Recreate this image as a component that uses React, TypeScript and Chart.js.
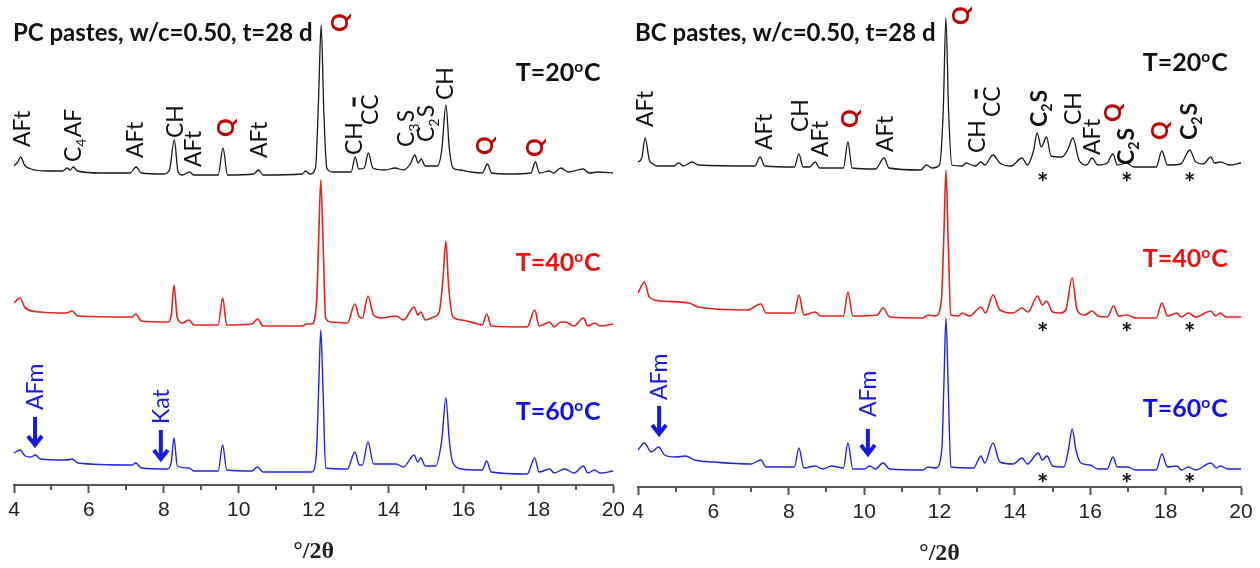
import React, { useEffect, useRef } from "react";
import { Chart, registerables } from "chart.js";
Chart.register(...registerables);

// ---------- axis ----------
const X_MIN = 4;
const X_MAX = 20;
const X_STEP = 2;
const X_MINOR = [5, 7, 9, 11, 13, 15, 17, 19];
const Y_MAX = 480; // stacked intensity (a.u.)

// ---------- data: [2theta, stacked intensity] ----------
const PC_20C: [number, number][] = [
  [4.0, 319], [4.1, 323], [4.18, 328], [4.28, 320], [4.45, 316], [4.9, 314], [5.3, 314], [5.42, 317], [5.5, 315],
  [5.58, 318], [5.7, 314], [6.3, 312], [7.1, 312], [7.26, 318], [7.4, 312], [8.0, 311], [8.15, 315], [8.28, 345],
  [8.38, 313], [8.5, 310], [8.68, 313], [8.8, 310], [9.45, 310], [9.58, 337], [9.7, 310], [10.4, 311], [10.53, 315],
  [10.65, 310], [11.7, 311], [11.78, 314], [11.9, 311], [12.05, 317], [12.13, 385], [12.2, 460], [12.27, 375],
  [12.35, 317], [12.5, 313], [13.0, 313], [13.11, 328], [13.2, 316], [13.35, 317], [13.46, 332], [13.58, 317],
  [13.9, 315], [14.17, 317], [14.4, 315], [14.58, 321], [14.7, 330], [14.79, 322], [14.87, 326], [14.98, 319],
  [15.3, 319], [15.42, 335], [15.53, 380], [15.62, 337], [15.72, 317], [15.9, 315], [16.2, 313], [16.5, 312],
  [16.64, 321], [16.75, 312], [17.2, 311], [17.8, 312], [17.92, 323], [18.03, 312], [18.3, 314], [18.4, 312],
  [18.6, 317], [18.8, 313], [19.2, 316], [19.35, 312], [19.6, 313], [20.0, 312],
];
const PC_40C: [number, number][] = [
  [4.0, 182], [4.16, 187], [4.3, 177], [4.7, 173], [5.4, 172], [5.55, 174], [5.7, 169], [7.15, 168], [7.25, 171],
  [7.4, 164], [8.1, 163], [8.2, 170], [8.27, 200], [8.36, 167], [8.5, 162], [8.67, 165], [8.8, 160], [9.45, 160],
  [9.57, 187], [9.68, 160], [10.35, 161], [10.5, 166], [10.65, 159], [11.7, 159], [11.8, 161], [11.95, 161],
  [12.08, 185], [12.14, 255], [12.19, 305], [12.25, 245], [12.32, 167], [12.45, 163], [12.9, 162], [13.1, 181],
  [13.22, 168], [13.3, 167], [13.45, 189], [13.6, 170], [13.8, 167], [14.2, 169], [14.4, 165], [14.68, 178],
  [14.78, 170], [14.86, 173], [14.98, 165], [15.2, 168], [15.35, 173], [15.45, 205], [15.53, 244], [15.6, 200],
  [15.72, 168], [15.95, 165], [16.38, 161], [16.5, 160], [16.62, 171], [16.74, 159], [17.7, 158], [17.9, 175],
  [18.02, 159], [18.3, 163], [18.42, 158], [18.6, 163], [18.72, 163], [18.95, 159], [19.2, 167], [19.32, 159],
  [19.5, 162], [19.65, 159], [20.0, 161],
];
const PC_60C: [number, number][] = [
  [4.0, 32], [4.16, 35], [4.3, 29], [4.45, 28], [4.57, 30], [4.7, 26], [5.4, 25], [5.55, 26], [5.7, 22], [7.15, 20],
  [7.25, 22], [7.4, 17], [8.1, 16], [8.2, 23], [8.27, 47], [8.36, 19], [8.67, 17], [8.8, 14], [9.45, 14], [9.57, 40],
  [9.68, 15], [10.35, 14], [10.5, 18], [10.65, 13], [11.95, 13], [12.07, 30], [12.14, 105], [12.19, 155],
  [12.25, 95], [12.32, 17], [12.9, 16], [13.1, 33], [13.22, 20], [13.3, 20], [13.45, 43], [13.6, 21], [14.2, 21],
  [14.4, 18], [14.68, 30], [14.78, 23], [14.86, 27], [14.98, 19], [15.25, 19], [15.42, 45], [15.53, 87],
  [15.62, 45], [15.72, 22], [15.95, 16], [16.38, 15], [16.5, 15], [16.62, 24], [16.74, 13], [17.7, 11], [17.9, 27],
  [18.02, 13], [18.3, 16], [18.42, 12], [18.7, 16], [18.95, 12], [19.2, 19], [19.32, 12], [19.5, 15], [19.65, 12],
  [20.0, 14],
];
const BC_20C: [number, number][] = [
  [4.0, 325], [4.1, 329], [4.19, 349], [4.3, 327], [4.4, 323], [4.5, 321], [4.95, 321], [5.08, 324], [5.2, 321],
  [5.44, 325], [5.6, 322], [7.1, 321], [7.24, 330], [7.36, 321], [8.15, 320], [8.27, 333], [8.38, 320], [8.55, 320],
  [8.7, 325], [8.82, 319], [9.45, 319], [9.57, 345], [9.68, 319], [10.3, 318], [10.53, 329], [10.66, 319],
  [11.5, 317], [11.65, 322], [11.8, 319], [12.0, 322], [12.1, 377], [12.17, 469], [12.24, 377], [12.33, 322],
  [12.6, 321], [12.7, 324], [12.95, 321], [13.1, 325], [13.2, 322], [13.42, 332], [13.6, 324], [13.9, 321],
  [14.19, 329], [14.33, 322], [14.5, 337], [14.59, 354], [14.7, 340], [14.84, 350], [14.96, 331], [15.25, 330],
  [15.4, 337], [15.54, 349], [15.7, 327], [15.9, 322], [16.05, 329], [16.2, 322], [16.45, 324], [16.6, 333],
  [16.72, 322], [16.97, 324], [17.15, 320], [17.75, 320], [17.9, 336], [18.05, 322], [18.4, 323], [18.64, 337],
  [18.8, 325], [19.0, 323], [19.2, 330], [19.3, 324], [19.45, 325], [19.7, 322], [20.0, 324],
];
const BC_40C: [number, number][] = [
  [4.0, 194], [4.17, 205], [4.3, 190], [4.6, 186], [5.35, 184], [5.6, 180], [6.9, 177], [7.26, 183], [7.4, 174],
  [8.15, 174], [8.27, 192], [8.4, 172], [8.7, 175], [8.85, 171], [9.45, 171], [9.57, 195], [9.7, 171], [10.35, 172],
  [10.5, 179], [10.68, 170], [11.55, 169], [11.7, 172], [11.9, 171], [12.05, 187], [12.12, 257], [12.17, 317],
  [12.23, 247], [12.3, 172], [12.5, 171], [12.6, 174], [12.8, 171], [13.1, 180], [13.22, 174], [13.42, 192],
  [13.6, 177], [13.95, 174], [14.19, 179], [14.35, 175], [14.6, 191], [14.73, 182], [14.84, 186], [15.0, 175],
  [15.2, 174], [15.35, 177], [15.52, 209], [15.65, 177], [15.85, 172], [16.05, 176], [16.2, 171], [16.45, 170],
  [16.62, 181], [16.75, 171], [16.97, 172], [17.2, 169], [17.75, 169], [17.9, 184], [18.05, 171], [18.3, 174],
  [18.42, 170], [18.6, 174], [18.8, 170], [19.2, 176], [19.32, 171], [19.45, 174], [19.6, 170], [20.0, 170],
];
const BC_60C: [number, number][] = [
  [4.0, 37], [4.17, 44], [4.35, 35], [4.55, 40], [4.7, 32], [5.0, 30], [5.26, 31], [5.5, 27], [6.0, 25], [7.0, 23],
  [7.26, 27], [7.4, 20], [8.15, 20], [8.27, 39], [8.4, 19], [8.7, 21], [8.9, 18], [9.13, 21], [9.45, 19], [9.57, 44],
  [9.7, 18], [10.0, 18], [10.15, 21], [10.3, 18], [10.5, 24], [10.68, 18], [11.55, 17], [11.7, 20], [11.9, 19],
  [12.06, 37], [12.12, 107], [12.17, 169], [12.23, 102], [12.3, 20], [12.9, 19], [13.1, 31], [13.2, 24],
  [13.42, 44], [13.6, 25], [13.95, 23], [14.19, 29], [14.33, 23], [14.62, 34], [14.73, 27], [14.85, 31], [15.0, 21],
  [15.3, 20], [15.42, 37], [15.52, 58], [15.62, 37], [15.75, 24], [16.0, 22], [16.2, 18], [16.45, 18], [16.6, 30],
  [16.72, 20], [17.0, 20], [17.2, 17], [17.75, 17], [17.9, 33], [18.05, 20], [18.3, 21], [18.42, 17], [18.6, 20],
  [18.8, 17], [19.2, 24], [19.35, 19], [19.45, 21], [19.65, 18], [20.0, 18],
];

// ---------- annotations ----------
type Seg = { t: string; sub?: boolean; sup?: boolean; bar?: boolean };
type Label = { x: number; y: number; segs: Seg[]; color: string; bold?: boolean; size: number; rot?: boolean; align?: "left" | "right" };
type Arrow = { x: number; y1: number; y2: number; color: string };

const BLACK = "#111111";
const QRED = "#c00000";
const TRED = "#f01010";
const TBLUE = "#1010ee";
const LBLUE = "#1a1ae6";

const S = (t: string): Seg[] => [{ t }];
const C2S: Seg[] = [{ t: "C" }, { t: "2", sub: true }, { t: "S" }];
const C3S: Seg[] = [{ t: "C" }, { t: "3", sub: true }, { t: "S" }];
const C4AF: Seg[] = [{ t: "C" }, { t: "4", sub: true }, { t: "AF" }];
const CCBAR: Seg[] = [{ t: "C" }, { t: "C", bar: true }];
const TEMP = (n: string): Seg[] => [{ t: "T=" + n }, { t: "o", sup: true }, { t: "C" }];

const LSIZE = 23;
const rl = (x: number, y: number, segs: Seg[], color = BLACK, size = LSIZE, bold = false): Label => ({ x, y, segs, color, size, bold, rot: true });
const q = (x: number, y: number): Label => rl(x, y, S("Q"), QRED, 23, true);

const PC_LABELS: Label[] = [
  { x: 3.97, y: 453, segs: S("PC pastes, w/c=0.50, t=28 d"), color: BLACK, size: 24, bold: true },
  { x: 19.66, y: 413, segs: TEMP("20"), color: BLACK, size: 25, bold: true, align: "right" },
  { x: 19.66, y: 223, segs: TEMP("40"), color: TRED, size: 25, bold: true, align: "right" },
  { x: 19.66, y: 74, segs: TEMP("60"), color: TBLUE, size: 25, bold: true, align: "right" },
  rl(4.2, 338, S("AFt")), rl(5.56, 323, C4AF), rl(7.21, 327, S("AFt")), rl(8.28, 347, S("CH")),
  rl(8.78, 318, S("AFt")), q(9.65, 348), rl(10.53, 327, S("AFt")), q(12.69, 453), rl(13.06, 330, S("CH")),
  rl(13.5, 360, CCBAR), rl(14.46, 338, C3S), rl(14.98, 343, C2S), rl(15.5, 385, S("CH")), q(16.56, 330), q(17.9, 328),
  rl(4.56, 75, S("AFm"), LBLUE), rl(7.92, 61, S("Kat"), LBLUE),
];
const PC_ARROWS: Arrow[] = [
  { x: 4.56, y1: 68, y2: 37, color: LBLUE },
  { x: 7.92, y1: 55, y2: 23, color: LBLUE },
];
const PC_STARS: [number, number][] = [];

const BC_LABELS: Label[] = [
  { x: 3.92, y: 455, segs: S("BC pastes, w/c=0.50, t=28 d"), color: BLACK, size: 24, bold: true },
  { x: 19.65, y: 425, segs: TEMP("20"), color: BLACK, size: 25, bold: true, align: "right" },
  { x: 19.65, y: 229, segs: TEMP("40"), color: TRED, size: 25, bold: true, align: "right" },
  { x: 19.65, y: 79, segs: TEMP("60"), color: TBLUE, size: 25, bold: true, align: "right" },
  rl(4.17, 360, S("AFt")), rl(7.33, 337, S("AFt")), rl(8.28, 355, S("CH")), rl(8.81, 330, S("AFt")),
  q(9.62, 359), rl(10.54, 335, S("AFt")), q(12.57, 462), rl(13.0, 334, S("CH")), rl(13.39, 370, CCBAR),
  rl(14.64, 360, C2S, BLACK, 23, true), rl(15.53, 362, S("CH")), rl(16.03, 332, S("AFt")), q(16.59, 365),
  rl(16.93, 322, C2S, BLACK, 23, true), q(17.85, 347), rl(18.62, 347, C2S, BLACK, 23, true),
  rl(4.56, 87, S("AFm"), LBLUE), rl(10.1, 70, S("AFm"), LBLUE),
];
const BC_ARROWS: Arrow[] = [
  { x: 4.56, y1: 81, y2: 50, color: LBLUE },
  { x: 10.1, y1: 58, y2: 30, color: LBLUE },
];
const BC_STARS: [number, number][] = [
  [14.74, 310], [16.97, 310], [18.64, 310],
  [14.74, 160], [16.97, 160], [18.64, 160],
  [14.74, 9], [16.97, 9], [18.64, 9],
];

const LABEL_FAMILY = "Lato, 'Open Sans', sans-serif";
const TICK_FAMILY = "'Liberation Sans', Arial, sans-serif";

function drawSegs(ctx: CanvasRenderingContext2D, segs: Seg[], size: number, weight: string, x0: number, base: number, draw: boolean) {
  let x = x0;
  for (const s of segs) {
    const small = s.sub || s.sup;
    const sz = small ? size * 0.62 : size;
    ctx.font = `${weight} ${sz}px ${LABEL_FAMILY}`;
    const dy = s.sub ? size * 0.22 : s.sup ? -size * 0.36 : 0;
    const w = ctx.measureText(s.t).width;
    if (draw) {
      ctx.fillText(s.t, x, base + dy);
      if (s.bar) {
        const cap = size * 0.72;
        ctx.fillRect(x + w * 0.2, base - cap - 9, w * 0.6, 3);
      }
    }
    x += w + (small ? 1 : 0);
  }
  return x - x0;
}

function makePlugin(labels: Label[], arrows: Arrow[], stars: [number, number][]) {
  return {
    id: "xrdDecor",
    afterDraw(chart: any) {
      const ctx: CanvasRenderingContext2D = chart.ctx;
      const xs = chart.scales.x;
      const ys = chart.scales.y;
      ctx.save();
      // minor ticks
      ctx.strokeStyle = "#555";
      ctx.lineWidth = 2;
      for (const v of X_MINOR) {
        const px = Math.round(xs.getPixelForValue(v));
        ctx.beginPath();
        ctx.moveTo(px, xs.top);
        ctx.lineTo(px, xs.top + 5);
        ctx.stroke();
      }
      ctx.textAlign = "left";
      ctx.textBaseline = "alphabetic";
      for (const l of labels) {
        const px = xs.getPixelForValue(l.x);
        const py = ys.getPixelForValue(l.y);
        const weight = l.bold ? "bold" : "normal";
        ctx.fillStyle = l.color;
        if (l.rot) {
          ctx.save();
          ctx.translate(px, py);
          ctx.rotate(-Math.PI / 2);
          drawSegs(ctx, l.segs, l.size, weight, 0, l.size * 0.36, true);
          ctx.restore();
        } else {
          const w = drawSegs(ctx, l.segs, l.size, weight, 0, 0, false);
          const x0 = l.align === "right" ? px - w : px;
          drawSegs(ctx, l.segs, l.size, weight, x0, py + l.size * 0.36, true);
        }
      }
      for (const a of arrows) {
        const px = xs.getPixelForValue(a.x);
        const p1 = ys.getPixelForValue(a.y1);
        const p2 = ys.getPixelForValue(a.y2);
        ctx.strokeStyle = a.color;
        ctx.lineWidth = 4;
        ctx.lineJoin = "miter";
        ctx.beginPath();
        ctx.moveTo(px, p1);
        ctx.lineTo(px, p2 - 3);
        ctx.stroke();
        ctx.beginPath();
        ctx.moveTo(px - 7, p2 - 12);
        ctx.lineTo(px, p2 - 3);
        ctx.lineTo(px + 7, p2 - 12);
        ctx.stroke();
      }
      ctx.fillStyle = BLACK;
      ctx.textAlign = "center";
      ctx.font = `bold 27px ${LABEL_FAMILY}`;
      for (const [sx, sy] of stars) {
        ctx.fillText("*", xs.getPixelForValue(sx), ys.getPixelForValue(sy) + 15);
      }
      ctx.restore();
    },
  };
}

type PanelProps = {
  series: [number, number][][];
  colors: string[];
  widths: number[];
  labels: Label[];
  arrows: Arrow[];
  stars: [number, number][];
  left: number;
  top: number;
  width: number;
  padL: number;
  padR: number;
};

function Panel(p: PanelProps) {
  const ref = useRef<HTMLCanvasElement>(null);
  useEffect(() => {
    const chart = new Chart(ref.current as HTMLCanvasElement, {
      type: "line",
      data: {
        datasets: p.series.map((s, i) => ({
          data: s.map(([x, y]) => ({ x, y })),
          borderColor: p.colors[i],
          borderWidth: p.widths[i],
          pointRadius: 0,
          cubicInterpolationMode: "monotone",
          fill: false,
        })),
      },
      options: {
        responsive: false,
        animation: false,
        devicePixelRatio: 1,
        layout: { padding: { left: p.padL, right: p.padR, top: 5, bottom: 0 } },
        plugins: { legend: { display: false }, tooltip: { enabled: false }, title: { display: false } },
        scales: {
          x: {
            type: "linear",
            min: X_MIN,
            max: X_MAX,
            ticks: {
              stepSize: X_STEP,
              autoSkip: false,
              maxRotation: 0,
              padding: 5,
              color: "#222",
              font: { family: TICK_FAMILY, size: 21 },
              callback: (v: any) => String(v),
            },
            grid: { display: true, drawOnChartArea: false, drawTicks: true, tickLength: 8, tickColor: "#555", tickWidth: 2 },
            border: { display: true, color: "#555", width: 2 },
            title: {
              display: true,
              text: "°/2θ",
              color: "#222",
              font: { family: "'Liberation Serif', 'DejaVu Serif', serif", size: 24, weight: "bold" },
              padding: { top: 0, bottom: 2 },
            },
            afterFit: (s: any) => {
              s.height = 83;
            },
          },
          y: { display: false, min: 0, max: Y_MAX },
        },
      } as any,
      plugins: [makePlugin(p.labels, p.arrows, p.stars)],
    });
    return () => chart.destroy();
  }, []);
  return (
    <canvas
      ref={ref}
      width={p.width}
      height={568}
      style={{ position: "absolute", left: p.left, top: p.top, width: p.width, height: 568 }}
    />
  );
}

const LINE_COLORS = ["#1a1a1a", "#e42222", "#2222e8"];
const LINE_WIDTHS = [1.3, 1.6, 1.4];

export default function App() {
  return (
    <div style={{ position: "absolute", left: 0, top: 0, width: 1260, height: 568, overflow: "hidden", background: "#fff" }}>
      <Panel series={[PC_20C, PC_40C, PC_60C]} colors={LINE_COLORS} widths={LINE_WIDTHS} labels={PC_LABELS}
        arrows={PC_ARROWS} stars={PC_STARS} left={0} top={0} width={630} padL={14} padR={14} />
      <Panel series={[BC_20C, BC_40C, BC_60C]} colors={LINE_COLORS} widths={LINE_WIDTHS} labels={BC_LABELS}
        arrows={BC_ARROWS} stars={BC_STARS} left={620} top={2} width={640} padL={18} padR={19} />
    </div>
  );
}
